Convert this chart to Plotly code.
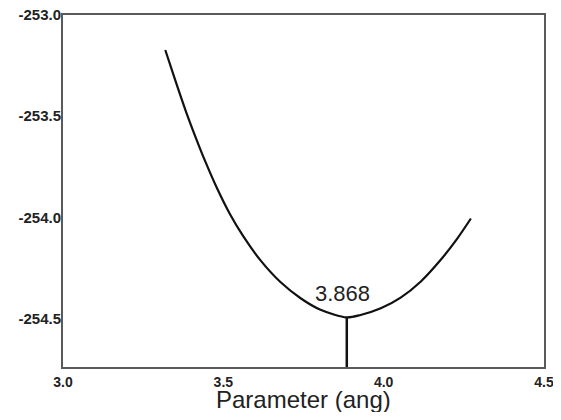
import plotly.graph_objects as go

# Curve (energy vs parameter)
x_vals = [3.319, 3.350, 3.381, 3.413, 3.444, 3.480, 3.520, 3.563, 3.616, 3.678, 3.741, 3.803, 3.885,
          3.928, 3.991, 4.053, 4.116, 4.178, 4.230, 4.272]
y_vals = [-253.173, -253.322, -253.466, -253.602, -253.725, -253.855, -253.982, -254.096, -254.213,
          -254.320, -254.400, -254.457, -254.495, -254.483, -254.450, -254.397, -254.317, -254.210,
          -254.104, -254.006]

min_x = 3.885        # where the vertical marker sits in the picture
min_y = -254.495
min_label = "3.868"
x_title = "Parameter (ang)"

x_tickvals = [3.0, 3.5, 4.0, 4.5]
x_ticktext = ["3.0", "3.5", "4.0", "4.5"]
y_tickvals = [-253.0, -253.5, -254.0, -254.5]
y_ticktext = ["-253.0", "-253.5", "-254.0", "-254.5"]
x_range = [3.0, 4.5]
y_range = [-254.74, -253.0]

fig = go.Figure()
fig.add_trace(go.Scatter(x=x_vals, y=y_vals, mode="lines",
                         line=dict(color="#111111", width=2.2, shape="spline", smoothing=0.8),
                         hoverinfo="skip", showlegend=False))
fig.add_trace(go.Scatter(x=[min_x, min_x], y=[y_range[0], min_y], mode="lines",
                         line=dict(color="#111111", width=2.5),
                         hoverinfo="skip", showlegend=False))
fig.add_annotation(x=min_x, y=min_y, text=min_label, showarrow=False,
                   yanchor="bottom", yshift=9, xshift=-4,
                   font=dict(family="Liberation Sans, Arial", size=22, color="#222222"))
fig.add_annotation(xref="paper", yref="paper", x=0.5, y=-0.093, text=x_title, showarrow=False,
                   xanchor="center", yanchor="middle",
                   font=dict(family="Liberation Sans, Arial", size=24, color="#222222"))

axis_common = dict(showgrid=False, zeroline=False, showline=True, mirror=True,
                   linecolor="#5a5a5a", linewidth=2, ticks="", automargin=False,
                   ticklabeloverflow="allow")

fig.update_xaxes(range=x_range, tickvals=x_tickvals, ticktext=x_ticktext,
                 ticklabelstandoff=1,
                 tickfont=dict(family="Liberation Sans, Arial", size=14, color="#222222", weight="bold"),
                 **axis_common)
fig.update_yaxes(range=y_range, tickvals=y_tickvals, ticktext=y_ticktext,
                 ticklabelstandoff=-3,
                 tickfont=dict(family="Liberation Sans, Arial", size=15, color="#222222", weight="bold"),
                 **axis_common)

# page body has an 8px margin, so the figure is sized to fit the 561x420 window
fig.update_layout(width=545, height=404, plot_bgcolor="white", paper_bgcolor="white",
                  margin=dict(l=55, r=9, t=7, b=45))

fig.write_html("out.html")
